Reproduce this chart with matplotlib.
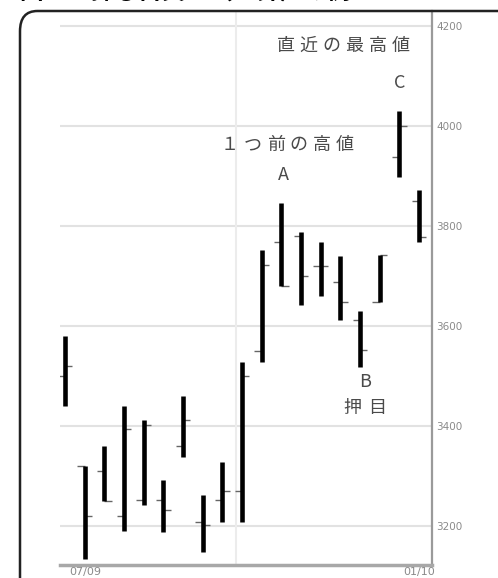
import numpy as np
from matplotlib import pyplot as plt
from matplotlib.patches import FancyBboxPatch

plt.rcParams['font.family'] = ['Noto Sans CJK JP', 'DejaVu Sans']

# OHLC values
highs = [3580, 3320, 3360, 3440, 3412, 3292, 3460, 3262, 3328, 3528,
         3752, 3846, 3788, 3768, 3740, 3630, 3742, 4030, 3872]
lows = [3440, 3134, 3250, 3190, 3242, 3188, 3338, 3148, 3208, 3208,
        3528, 3680, 3642, 3660, 3612, 3518, 3648, 3898, 3768]
opens = [3500, 3320, 3310, 3220, 3252, 3252, 3360, 3208, 3252, 3270,
         3550, 3768, 3780, 3720, 3688, 3612, 3648, 3938, 3850]
closes = [3520, 3220, 3250, 3394, 3402, 3232, 3412, 3202, 3270, 3500,
          3722, 3680, 3700, 3720, 3648, 3552, 3742, 4000, 3778]
yticks = [3200, 3400, 3600, 3800, 4000, 4200]
date_labels = ['07/09', '01/10']

x = np.arange(len(highs))


def spaced_text(ax, xc, y, s, step=23, **kw):
    # draw characters one by one, with wider letter spacing
    n = len(s)
    for k, ch in enumerate(s):
        off = (k - (n - 1) / 2) * step * 72 / 100
        ax.annotate(ch, (xc, y), xytext=(off, 0), textcoords='offset points',
                    ha='center', va='center', **kw)


fig = plt.figure(figsize=(4.98, 5.78), dpi=100)

# heading cut off by the top edge
fig.text(0.04, 1 + 1 / 578, '図２　押し目買い（上昇）の例', fontsize=17,
         color='black', ha='left', va='baseline', fontweight='bold')

# rounded frame around the chart
frame = FancyBboxPatch((20 / 498, -0.05), 1.0, 1.05 - 11 / 578,
                       boxstyle='round,pad=0,rounding_size=0.035',
                       transform=fig.transFigure, fill=False,
                       edgecolor='#222222', linewidth=1.8, clip_on=False)
fig.patches.append(frame)

ax = fig.add_axes([60 / 498, 1 - 565 / 578, (432 - 60) / 498, (565 - 11) / 578])
ax.set_xlim(-0.254, 18.66)
ax.set_ylim(3122, 4230)

# grid
for v in yticks:
    ax.axhline(v, color='#e2e2e2', lw=1.5, zorder=0)
ax.axvline(8.69, color='#ececec', lw=1.5, zorder=0)

# bars
ax.vlines(x, lows, highs, color='black', lw=3.3, zorder=3)
ax.hlines(opens, x - 0.38, x, color='#666666', lw=1.0, zorder=2)
ax.hlines(closes, x, x + 0.38, color='#666666', lw=1.0, zorder=2)

for s in ['left', 'top']:
    ax.spines[s].set_visible(False)
ax.spines['right'].set_color('#9a9a9a')
ax.spines['right'].set_linewidth(1.6)
ax.spines['bottom'].set_color('#a8a8a8')
ax.spines['bottom'].set_linewidth(2.5)

ax.yaxis.tick_right()
ax.set_yticks(yticks)
ax.set_yticklabels([str(v) for v in yticks], fontsize=7.5, color='#8a8a8a',
                   family='DejaVu Sans')
ax.tick_params(axis='y', length=0, pad=3)
ax.set_xticks([])

ax.text(1.05, 3117, date_labels[0], fontsize=8, color='#8a8a8a',
        ha='center', va='top', clip_on=False, family='DejaVu Sans')
ax.text(18.0, 3117, date_labels[1], fontsize=8, color='#8a8a8a',
        ha='center', va='top', clip_on=False, family='DejaVu Sans')

# annotations
tc = '#4a4a4a'
spaced_text(ax, 14.13, 4160, '直近の最高値', fontsize=13, color=tc)
ax.text(17.03, 4086, 'C', fontsize=13, color=tc, ha='center', va='center')
spaced_text(ax, 11.3, 3962, '１つ前の高値', fontsize=13, color=tc)
ax.text(11.1, 3902, 'A', fontsize=13, color=tc, ha='center', va='center')
ax.text(15.25, 3488, 'B', fontsize=13, color=tc, ha='center', va='center')
spaced_text(ax, 15.25, 3436, '押目', step=25, fontsize=13, color=tc)

fig.savefig('out.png', dpi=100)
